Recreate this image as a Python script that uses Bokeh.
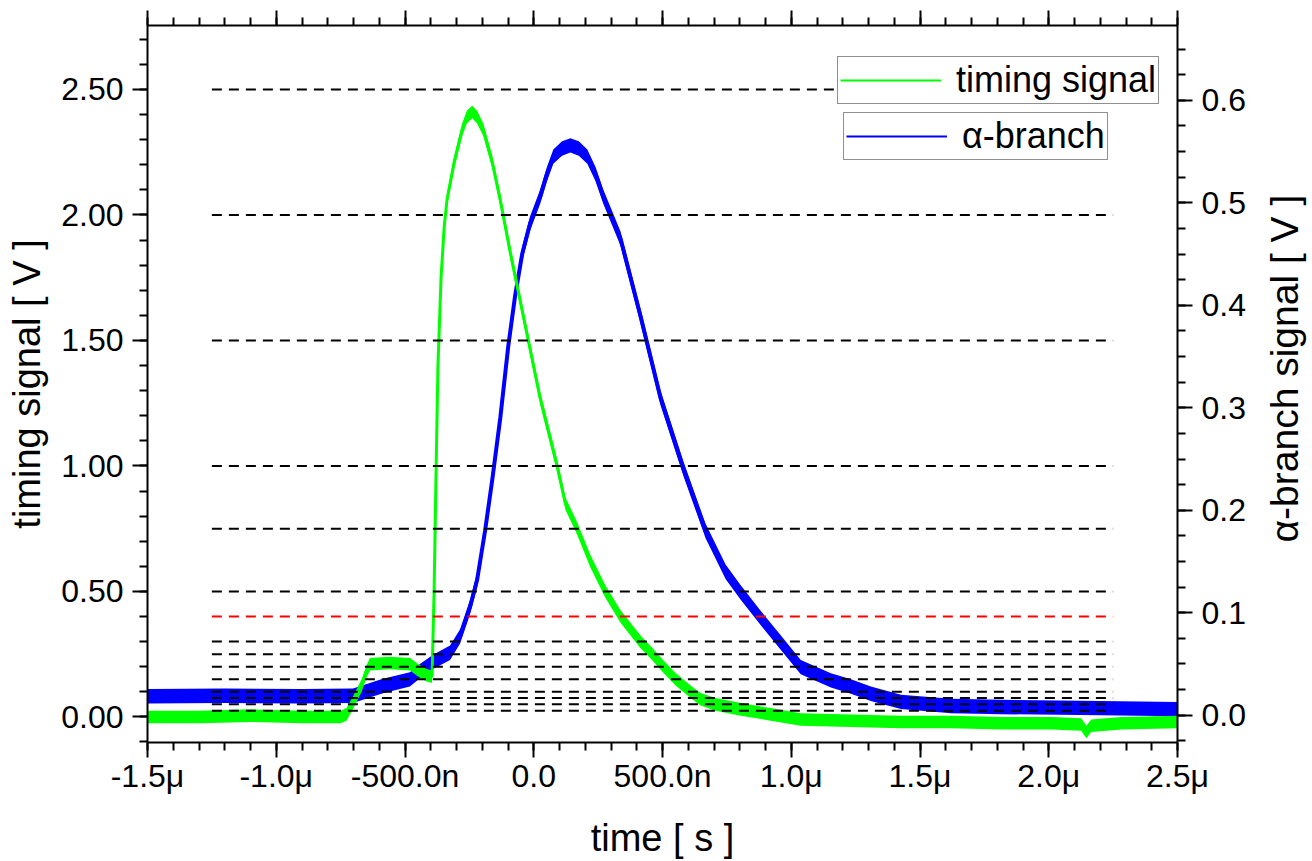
from bokeh.plotting import figure
from bokeh.layouts import row
from bokeh.models import (Range1d, LinearAxis, SingleIntervalTicker, PrintfTickFormatter,
                          Legend, LegendItem)
from bokeh.core.properties import value
from bokeh.embed import file_html
from bokeh.resources import INLINE

# ---------------- data ----------------
# time in microseconds
timing_t = [-1.5, -1.3, -1.1, -0.9, -0.75, -0.727, -0.70, -0.668, -0.65, -0.636, -0.56, -0.48,
            -0.455, -0.416, -0.395, -0.387, -0.379, -0.372, -0.360, -0.348, -0.337, -0.309,
            -0.278, -0.26, -0.239, -0.22, -0.196, -0.161, -0.130, -0.091, -0.053, -0.021, 0.025,
            0.091, 0.123, 0.169, 0.220, 0.278, 0.337, 0.414, 0.461, 0.504, 0.551, 0.609, 0.648,
            0.706, 0.804, 0.920, 1.037, 1.232, 1.426, 1.621, 1.815, 2.010, 2.126, 2.146,
            2.165, 2.282, 2.5]
timing_v = [0.0, 0.0, 0.005, 0.0, 0.0, 0.01, 0.06, 0.126, 0.18, 0.21, 0.215, 0.21,
            0.19, 0.166, 0.16, 0.5, 1.0, 1.4, 1.75, 1.95, 2.06, 2.21,
            2.34, 2.39, 2.41, 2.39, 2.34, 2.21, 2.06, 1.85, 1.66, 1.50, 1.27,
            1.00, 0.85, 0.75, 0.62, 0.50, 0.40, 0.30, 0.25, 0.20, 0.15, 0.10, 0.07,
            0.05, 0.03, 0.01, -0.01, -0.015, -0.02, -0.02, -0.025, -0.025, -0.03, -0.06,
            -0.035, -0.025, -0.02]
timing_noise = 0.025   # half width of the noise band (V)

alpha_t = [-1.5, -1.2, -0.9, -0.702, -0.586, -0.481, -0.442, -0.391, -0.325, -0.286, -0.247,
           -0.220, -0.189, -0.161, -0.130, -0.099, -0.072, -0.045, -0.014, 0.025, 0.05, 0.076,
           0.11, 0.142, 0.175, 0.208, 0.24, 0.270, 0.337, 0.414, 0.492, 0.582, 0.667, 0.745,
           0.803, 0.881, 0.959, 1.037, 1.154, 1.232, 1.309, 1.426, 1.621, 1.815, 2.204, 2.5]
alpha_v = [0.0185, 0.019, 0.0185, 0.019, 0.0285, 0.035, 0.043, 0.052, 0.061, 0.077, 0.106,
           0.132, 0.18, 0.23, 0.29, 0.36, 0.41, 0.45, 0.48, 0.506, 0.527, 0.545,
           0.553, 0.556, 0.553, 0.545, 0.528, 0.506, 0.465, 0.39, 0.31, 0.24, 0.18, 0.14,
           0.12, 0.095, 0.071, 0.047, 0.034, 0.028, 0.021, 0.013, 0.009, 0.008, 0.007, 0.006]
alpha_noise = 0.007    # half width of the noise band (V)

thresholds = [2.5, 2.0, 1.5, 1.0, 0.75, 0.5, 0.4, 0.3, 0.25, 0.2, 0.15, 0.1, 0.075, 0.05, 0.025]
threshold_colors = ["black"] * 6 + ["red"] + ["black"] * 8
threshold_start = -1.25
threshold_end = 2.25

x_ticks = [-1.5, -1.0, -0.5, 0.0, 0.5, 1.0, 1.5, 2.0, 2.5]
x_tick_labels = ["-1.5\u03bc", "-1.0\u03bc", "-500.0n", "0.0", "500.0n", "1.0\u03bc",
                 "1.5\u03bc", "2.0\u03bc", "2.5\u03bc"]

right_title = "\u03b1-branch signal [ V ]"

GREEN = "#00ff00"
BLUE = "#0000ff"
FONT = "Liberation Sans"
TICK_FS = "32px"
TITLE_FS = "38px"

MAIN_W = 1252
STRIP_W = 60
H = 861

# ---------------- main figure ----------------
p = figure(width=MAIN_W, height=H, output_backend="svg", toolbar_location=None,
           x_range=Range1d(-1.5, 2.5), y_range=Range1d(-0.102, 2.755),
           min_border_left=147, min_border_right=MAIN_W - 1177, min_border_top=25,
           min_border_bottom=116)
p.title.visible = False
p.extra_y_ranges = {"alpha": Range1d(-0.0266, 0.673)}
p.xgrid.visible = False
p.ygrid.visible = False
p.outline_line_color = None
p.background_fill_color = "white"
p.border_fill_color = "white"


def style_axis(ax, major_out=15, minor_out=8):
    ax.axis_line_color = "black"
    ax.axis_line_width = 2
    ax.major_tick_line_color = "black"
    ax.major_tick_line_width = 2
    ax.minor_tick_line_color = "black"
    ax.minor_tick_line_width = 2
    ax.major_tick_in = 0
    ax.major_tick_out = major_out
    ax.minor_tick_in = 0
    ax.minor_tick_out = minor_out
    ax.major_label_text_font = FONT
    ax.major_label_text_font_size = TICK_FS
    ax.major_label_text_color = "black"
    ax.axis_label_text_font = FONT
    ax.axis_label_text_font_size = TITLE_FS
    ax.axis_label_text_font_style = "normal"
    ax.axis_label_text_color = "black"


# bottom axis
xb = p.xaxis[0]
xb.ticker = SingleIntervalTicker(interval=0.5, num_minor_ticks=5)
xb.major_label_overrides = {t: s for t, s in zip(x_ticks, x_tick_labels)}
xb.axis_label = "time [ s ]"
style_axis(xb)
xb.major_label_standoff = 0
xb.axis_label_standoff = 20

# left axis
yl = p.yaxis[0]
yl.ticker = SingleIntervalTicker(interval=0.5, num_minor_ticks=5)
yl.formatter = PrintfTickFormatter(format="%.2f")
yl.axis_label = "timing signal [ V ]"
style_axis(yl)
yl.major_label_standoff = 9
yl.axis_label_standoff = 10

# top axis (ticks only)
xt = LinearAxis(ticker=SingleIntervalTicker(interval=0.5, num_minor_ticks=5))
style_axis(xt)
xt.major_label_text_font_size = "0px"
xt.major_label_standoff = 0
p.add_layout(xt, "above")

# right axis
yr = LinearAxis(y_range_name="alpha", ticker=SingleIntervalTicker(interval=0.1, num_minor_ticks=4),
                formatter=PrintfTickFormatter(format="%.1f"))
style_axis(yr)
yr.major_label_standoff = 9
p.add_layout(yr, "right")

# ---------------- data renderers ----------------
p.varea(x=alpha_t, y1=[v - alpha_noise for v in alpha_v], y2=[v + alpha_noise for v in alpha_v],
        fill_color=BLUE, y_range_name="alpha")
p.line(alpha_t, alpha_v, line_color=BLUE, line_width=4, y_range_name="alpha")

p.varea(x=timing_t, y1=[v - timing_noise for v in timing_v], y2=[v + timing_noise for v in timing_v],
        fill_color=GREEN)
p.line(timing_t, timing_v, line_color=GREEN, line_width=3)

# threshold lines
p.segment(x0=[threshold_start] * len(thresholds), x1=[threshold_end] * len(thresholds),
          y0=thresholds, y1=thresholds, line_color=threshold_colors, line_width=2,
          line_dash="10 7")

# ---------------- legends ----------------
leg_g = p.line([float("nan")], [float("nan")], line_color=GREEN, line_width=2)
leg_b = p.line([float("nan")], [float("nan")], line_color=BLUE, line_width=2)


def make_legend(label, rend, loc):
    lg = Legend(items=[LegendItem(label=label, renderers=[rend])], location=loc)
    lg.label_text_font = FONT
    lg.label_text_font_size = "36px"
    lg.label_text_color = "black"
    lg.border_line_color = "#222222"
    lg.border_line_width = 1
    lg.background_fill_color = "white"
    lg.background_fill_alpha = 1
    lg.padding = 2
    lg.spacing = 0
    lg.margin = 0
    lg.glyph_width = 101
    lg.glyph_height = 20
    lg.label_standoff = 15
    return lg


p.add_layout(make_legend("timing signal", leg_g, (690, 638)), "center")
p.add_layout(make_legend("\u03b1-branch", leg_b, (696, 582)), "center")

# ---------------- strip holding the right-hand axis title ----------------
q = figure(width=STRIP_W, height=H, output_backend="svg", toolbar_location=None,
           x_range=Range1d(0, STRIP_W), y_range=Range1d(0, H),
           x_axis_location=None, y_axis_location=None, min_border=0)
q.title.visible = False
q.xgrid.visible = False
q.ygrid.visible = False
q.outline_line_color = None
q.background_fill_color = "white"
q.border_fill_color = "white"
q.text(x=[32], y=[H - 412], text=[right_title], angle=90, angle_units="deg",
       text_align="center", text_baseline="middle", text_font=value(FONT),
       text_font_size=value("39px"), text_color="black")

open("out.html", "w").write(file_html(row(p, q), INLINE))
